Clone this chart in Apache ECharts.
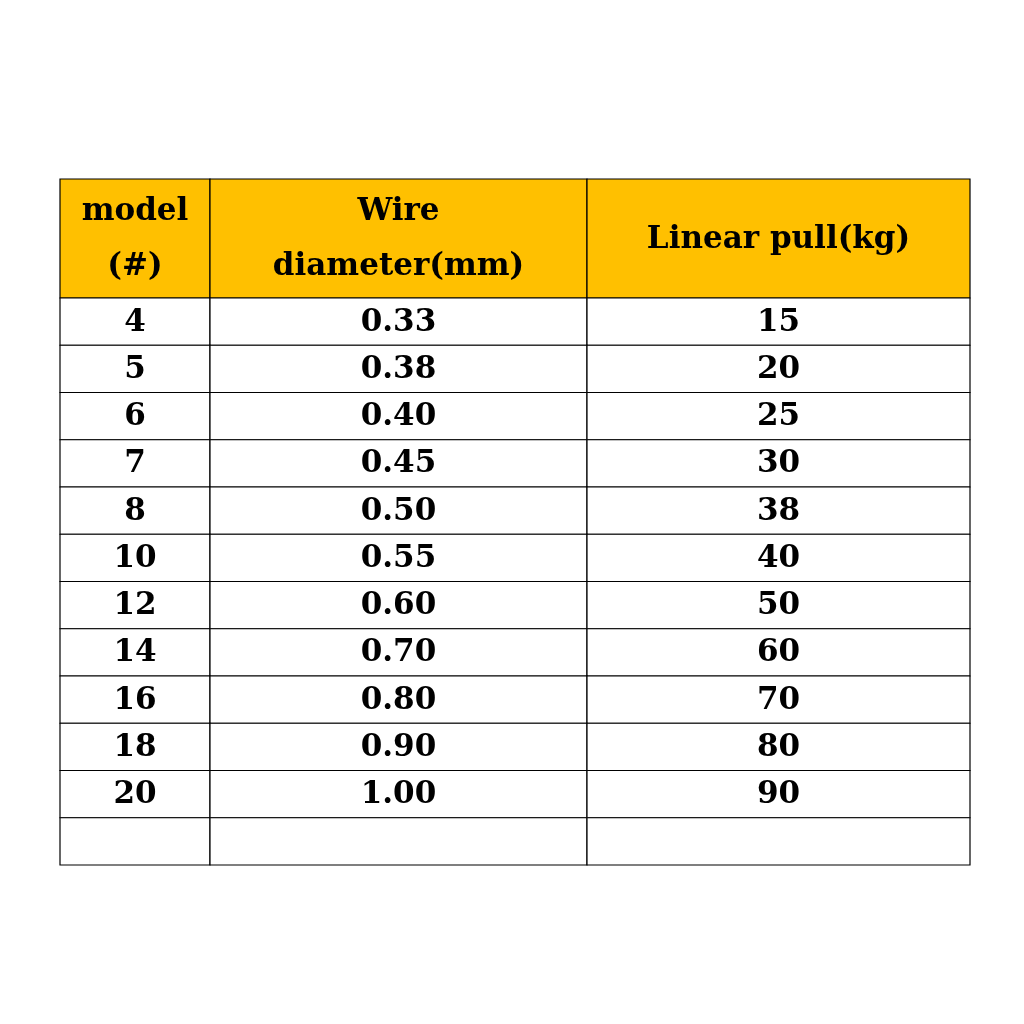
<!DOCTYPE html>
<html><head><meta charset="utf-8">
<script src="https://cdn.jsdelivr.net/npm/echarts@6/dist/echarts.min.js"></script>
<style>html,body{margin:0;background:#fff}#c{width:1024px;height:1024px}</style>
</head><body><div id="c"></div>
<script>
const headers = ['model\n(#)', 'Wire\ndiameter(mm)', 'Linear pull(kg)'];
const models = ['4','5','6','7','8','10','12','14','16','18','20',''];
const diameters = ['0.33','0.38','0.40','0.45','0.50','0.55','0.60','0.70','0.80','0.90','1.00',''];
const pulls = ['15','20','25','30','38','40','50','60','70','80','90',''];

const colEdges = [0, 150, 527, 910];
const headerH = 119, rowH = 47.25;
const columns = [models, diameters, pulls];
const cells = [];
headers.forEach((h, c) => cells.push([c, -1, h]));
for (let r = 0; r < models.length; r++) for (let c = 0; c < 3; c++) cells.push([c, r, columns[c][r]]);
function rowTop(r){ return r < 0 ? 0 : headerH + r * rowH; }
function rowBot(r){ return r < 0 ? headerH : headerH + (r + 1) * rowH; }

const chart = echarts.init(document.getElementById('c'));
chart.setOption({
  animation: false,
  grid: {left: 60, top: 179, width: 910, height: headerH + rowH * models.length},
  xAxis: {type: 'value', min: 0, max: 910, show: false},
  yAxis: {type: 'value', min: 0, max: headerH + rowH * models.length, inverse: true, show: false},
  series: [{
    type: 'custom',
    data: cells,
    renderItem: function(params, api){
      const c = api.value(0), r = api.value(1);
      const d = cells[params.dataIndex];
      const p0 = api.coord([colEdges[c], rowTop(r)]);
      const p1 = api.coord([colEdges[c+1], rowBot(r)]);
      const hdr = r < 0;
      return {type: 'group', children: [
        {type: 'rect', shape: {x: p0[0], y: p0[1], width: p1[0]-p0[0], height: p1[1]-p0[1]},
         style: {fill: hdr ? '#FFC000' : '#fff', stroke: '#000', lineWidth: 1.2}},
        {type: 'text', x: (p0[0]+p1[0])/2, y: (p0[1]+p1[1])/2 + 1,
         style: {text: d[2], align: 'center', verticalAlign: 'middle', fill: '#000',
           font: 'bold 31px "DejaVu Serif"', lineHeight: 55}}
      ]};
    }
  }]
});
</script></body></html>
